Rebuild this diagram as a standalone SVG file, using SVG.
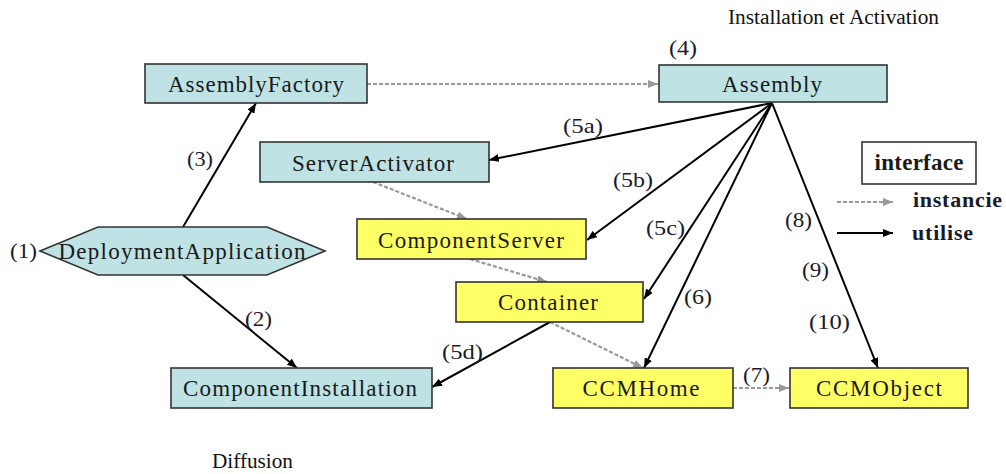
<svg xmlns="http://www.w3.org/2000/svg" width="1006" height="474" viewBox="0 0 1006 474">
<style>
.bg{fill:#ffffff}
.blue{fill:#bfe2e4;stroke:#333;stroke-width:1.6}
.yel{fill:#ffff66;stroke:#333;stroke-width:1.6}
.leg{fill:#ffffff;stroke:#333;stroke-width:1.6}
.nl{font-family:"Liberation Serif","Times New Roman",serif;font-size:23px;fill:#1a1a1a;text-anchor:middle}
.lbl{font-family:"Liberation Serif","Times New Roman",serif;font-size:22px;fill:#1a1a2a}
.ttl{font-family:"Liberation Serif","Times New Roman",serif;font-size:20px;fill:#111}
.use{fill:none;stroke:#000;stroke-width:2}
.inst{fill:none;stroke:#999;stroke-width:2.2;stroke-dasharray:4 2}
</style>
<defs>
<marker id="ab" viewBox="0 0 10 8" refX="10" refY="4" markerWidth="10" markerHeight="8" markerUnits="userSpaceOnUse" orient="auto"><path d="M0,0 L10,4 L0,8 Z" fill="#000"/></marker>
<marker id="ag" viewBox="0 0 10 8" refX="10" refY="4" markerWidth="10" markerHeight="8" markerUnits="userSpaceOnUse" orient="auto"><path d="M0,0 L10,4 L0,8 Z" fill="#999"/></marker>
</defs>
<rect class="bg" x="0" y="0" width="1006" height="474"/>

<g id="connectors">
<line class="inst" x1="367" y1="84" x2="658" y2="84" marker-end="url(#ag)"/>
<line class="inst" x1="373" y1="182" x2="467" y2="219" marker-end="url(#ag)"/>
<line class="inst" x1="470" y1="259" x2="547" y2="282" marker-end="url(#ag)"/>
<line class="inst" x1="550" y1="322" x2="643" y2="368" marker-end="url(#ag)"/>
<line class="inst" x1="733" y1="388" x2="789" y2="388" marker-end="url(#ag)"/>
<line class="use" x1="183" y1="227" x2="256" y2="103" marker-end="url(#ab)"/>
<line class="use" x1="183" y1="275" x2="297" y2="368" marker-end="url(#ab)"/>
<line class="use" x1="772" y1="103" x2="489" y2="160" marker-end="url(#ab)"/>
<line class="use" x1="772" y1="103" x2="587" y2="240" marker-end="url(#ab)"/>
<line class="use" x1="772" y1="103" x2="644" y2="299" marker-end="url(#ab)"/>
<line class="use" x1="772" y1="103" x2="644" y2="368" marker-end="url(#ab)"/>
<line class="use" x1="772" y1="103" x2="878" y2="368" marker-end="url(#ab)"/>
<line class="use" x1="550" y1="322" x2="432" y2="387" marker-end="url(#ab)"/>
</g>

<g id="AssemblyFactory">
<rect class="blue" x="145" y="64" width="222" height="39"/>
<text class="nl" x="256" y="92" textLength="176" lengthAdjust="spacing">AssemblyFactory</text>
</g>
<g id="ServerActivator">
<rect class="blue" x="260" y="142" width="229" height="40"/>
<text class="nl" x="373" y="171" textLength="162" lengthAdjust="spacing">ServerActivator</text>
</g>
<g id="DeploymentApplication">
<polygon class="blue" points="40,251 98,227 267,227 325,251 267,275 98,275"/>
<text class="nl" x="182" y="259" textLength="247" lengthAdjust="spacing">DeploymentApplication</text>
</g>
<g id="Assembly">
<rect class="blue" x="659" y="65" width="228" height="37"/>
<text class="nl" x="772" y="92" textLength="100" lengthAdjust="spacing">Assembly</text>
</g>
<g id="ComponentServer">
<rect class="yel" x="357" y="219" width="229" height="40"/>
<text class="nl" x="471" y="248" textLength="186" lengthAdjust="spacing">ComponentServer</text>
</g>
<g id="Container">
<rect class="yel" x="456" y="282" width="187" height="40"/>
<text class="nl" x="548" y="310" textLength="100" lengthAdjust="spacing">Container</text>
</g>
<g id="ComponentInstallation">
<rect class="blue" x="171" y="368" width="261" height="40"/>
<text class="nl" x="300" y="396" textLength="234" lengthAdjust="spacing">ComponentInstallation</text>
</g>
<g id="CCMHome">
<rect class="yel" x="553" y="368" width="180" height="40"/>
<text class="nl" x="641" y="396" textLength="117" lengthAdjust="spacing">CCMHome</text>
</g>
<g id="CCMObject">
<rect class="yel" x="790" y="368" width="178" height="40"/>
<text class="nl" x="879" y="396" textLength="126" lengthAdjust="spacing">CCMObject</text>
</g>

<g id="labels">
<text class="lbl" x="10" y="258" textLength="27" lengthAdjust="spacingAndGlyphs">(1)</text>
<text class="lbl" x="187" y="166" textLength="26" lengthAdjust="spacingAndGlyphs">(3)</text>
<text class="lbl" x="245" y="326" textLength="27" lengthAdjust="spacingAndGlyphs">(2)</text>
<text class="lbl" x="669" y="55" textLength="28" lengthAdjust="spacingAndGlyphs">(4)</text>
<text class="lbl" x="563" y="133" textLength="40" lengthAdjust="spacingAndGlyphs">(5a)</text>
<text class="lbl" x="613" y="187" textLength="40" lengthAdjust="spacingAndGlyphs">(5b)</text>
<text class="lbl" x="646" y="235" textLength="39" lengthAdjust="spacingAndGlyphs">(5c)</text>
<text class="lbl" x="684" y="304" textLength="28" lengthAdjust="spacingAndGlyphs">(6)</text>
<text class="lbl" x="442" y="359" textLength="41" lengthAdjust="spacingAndGlyphs">(5d)</text>
<text class="lbl" x="743" y="382" textLength="27" lengthAdjust="spacingAndGlyphs">(7)</text>
<text class="lbl" x="785" y="227" textLength="27" lengthAdjust="spacingAndGlyphs">(8)</text>
<text class="lbl" x="802" y="277" textLength="27" lengthAdjust="spacingAndGlyphs">(9)</text>
<text class="lbl" x="809" y="329" textLength="41" lengthAdjust="spacingAndGlyphs">(10)</text>
</g>

<g id="titles">
<text class="ttl" x="728" y="24" textLength="211" lengthAdjust="spacingAndGlyphs">Installation et Activation</text>
<text class="ttl" x="212" y="468" textLength="81" lengthAdjust="spacingAndGlyphs">Diffusion</text>
</g>

<g id="legend">
<rect class="leg" x="862" y="142" width="114" height="42"/>
<text class="nl" x="919" y="170" font-size="21" font-weight="bold" textLength="89" lengthAdjust="spacing">interface</text>
<line class="inst" x1="837" y1="202" x2="893" y2="202" marker-end="url(#ag)"/>
<text class="lbl" x="913" y="207" font-weight="bold" textLength="89" lengthAdjust="spacing">instancie</text>
<line class="use" x1="837" y1="233" x2="893" y2="233" marker-end="url(#ab)"/>
<text class="lbl" x="912" y="240" font-weight="bold" textLength="61" lengthAdjust="spacing">utilise</text>
</g>
</svg>
